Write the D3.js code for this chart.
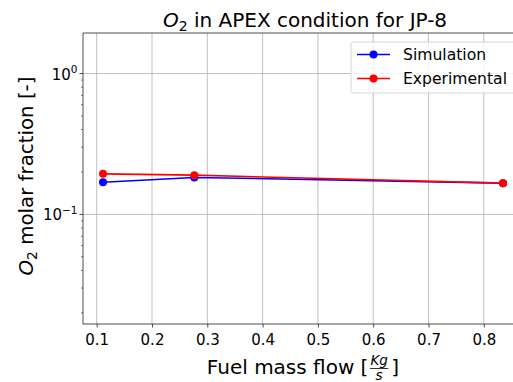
<!DOCTYPE html>
<html>
<head>
<meta charset="utf-8">
<script src="https://cdn.jsdelivr.net/npm/d3@7"></script>
<style>
  body { margin: 0; background: #fff; }
  svg { display: block; font-family: "DejaVu Sans", sans-serif; }
</style>
</head>
<body>
<svg id="chart" width="513" height="382"></svg>
<script>
// Fuel mass flow [kg/s] and O2 molar fraction for each series
const massFlow = [0.1114, 0.2765, 0.8347];
const simulation = [0.169, 0.183, 0.1667];
const experimental = [0.194, 0.190, 0.1667];
const xTicks = [0.1, 0.2, 0.3, 0.4, 0.5, 0.6, 0.7, 0.8];
const yMajorTicks = [0.1, 1];
const seriesNames = ["Simulation", "Experimental"];
const seriesColors = ["#0000ff", "#ff0000"];

const svg = d3.select("#chart");
const plot = { left: 83, right: 523, top: 33, bottom: 324 };

// x limits with 5% padding around the data range
const xMin = d3.min(massFlow), xMax = d3.max(massFlow);
const pad = (xMax - xMin) * 0.05;
const x = d3.scaleLinear().domain([xMin - pad, xMax + pad]).range([plot.left, plot.right]);

// y limits: one decade below the smallest and above the largest value
const allY = simulation.concat(experimental);
const y = d3.scaleLog().domain([d3.min(allY) / 10, d3.max(allY) * 10]).range([plot.bottom, plot.top]);

const gridColor = "#b0b0b0";
const spineColor = "#222";

// grid
const grid = svg.append("g");
xTicks.forEach(t => {
  grid.append("line").attr("x1", x(t)).attr("x2", x(t))
    .attr("y1", plot.top).attr("y2", plot.bottom)
    .attr("stroke", gridColor).attr("stroke-width", 0.8);
});
yMajorTicks.forEach(t => {
  grid.append("line").attr("x1", plot.left).attr("x2", plot.right)
    .attr("y1", y(t)).attr("y2", y(t))
    .attr("stroke", gridColor).attr("stroke-width", 0.8);
});

// x axis
const xAxis = d3.axisBottom(x).tickValues(xTicks).tickSize(3.5).tickPadding(6)
  .tickFormat(d3.format(".1f"));
const gx = svg.append("g").attr("transform", `translate(0,${plot.bottom})`).call(xAxis);
gx.select(".domain").remove();
gx.selectAll("line").attr("stroke", spineColor).attr("stroke-width", 0.8);
gx.selectAll("text").attr("fill", "#000").attr("dy", null).attr("y", 21)
  .style("font-size", "15px").style("font-family", "DejaVu Sans");

// y minor ticks
const [yLo, yHi] = y.domain();
const minor = [];
for (let e = -3; e <= 1; e++) {
  for (let m = 2; m <= 9; m++) {
    const v = m * Math.pow(10, e);
    if (v >= yLo && v <= yHi) minor.push(v);
  }
}
const gyMinor = svg.append("g");
minor.forEach(v => {
  gyMinor.append("line").attr("x1", plot.left - 2).attr("x2", plot.left)
    .attr("y1", y(v)).attr("y2", y(v)).attr("stroke", spineColor).attr("stroke-width", 0.6);
});
// y major ticks with power-of-ten labels
const gy = svg.append("g");
yMajorTicks.forEach(v => {
  gy.append("line").attr("x1", plot.left - 3.5).attr("x2", plot.left)
    .attr("y1", y(v)).attr("y2", y(v)).attr("stroke", spineColor).attr("stroke-width", 0.8);
  const exp = Math.round(Math.log10(v));
  const t = gy.append("text").attr("x", plot.left - 5.5).attr("y", y(v) + 6)
    .attr("text-anchor", "end").style("font-size", "15px");
  t.append("tspan").text("10");
  t.append("tspan").attr("dy", -6.5).style("font-size", "10.5px").text(exp === 0 ? "0" : "\u22121");
});

// spines (left, bottom, top)
svg.append("line").attr("x1", plot.left).attr("x2", plot.left).attr("y1", plot.top).attr("y2", plot.bottom)
  .attr("stroke", spineColor).attr("stroke-width", 0.8);
svg.append("line").attr("x1", plot.left).attr("x2", plot.right).attr("y1", plot.bottom).attr("y2", plot.bottom)
  .attr("stroke", spineColor).attr("stroke-width", 0.8);
svg.append("line").attr("x1", plot.left).attr("x2", plot.right).attr("y1", plot.top).attr("y2", plot.top)
  .attr("stroke", spineColor).attr("stroke-width", 0.8);

// series
const line = d3.line().x(d => x(d[0])).y(d => y(d[1]));
[simulation, experimental].forEach((vals, i) => {
  const pts = massFlow.map((m, j) => [m, vals[j]]);
  svg.append("path").datum(pts).attr("d", line).attr("fill", "none")
    .attr("stroke", seriesColors[i]).attr("stroke-width", 1.6);
  svg.append("g").selectAll("circle").data(pts).join("circle")
    .attr("cx", d => x(d[0])).attr("cy", d => y(d[1])).attr("r", 4)
    .attr("fill", seriesColors[i]);
});

// legend
const lg = svg.append("g");
lg.append("rect").attr("x", 351).attr("y", 42).attr("width", 170).attr("height", 51)
  .attr("rx", 2.5).attr("fill", "rgba(255,255,255,0.8)").attr("stroke", "#ccc").attr("stroke-width", 0.8);
seriesNames.forEach((name, i) => {
  const cy = 54.5 + i * 24;
  lg.append("line").attr("x1", 357).attr("x2", 390).attr("y1", cy).attr("y2", cy)
    .attr("stroke", seriesColors[i]).attr("stroke-width", 1.6);
  lg.append("circle").attr("cx", 373.5).attr("cy", cy).attr("r", 4).attr("fill", seriesColors[i]);
  lg.append("text").attr("x", 403).attr("y", cy + 5.5).style("font-size", "15.6px").text(name);
});

// title
const title = svg.append("text").attr("x", (plot.left + plot.right) / 2 + 2).attr("y", 26.5)
  .attr("text-anchor", "middle").style("font-size", "20px");
title.append("tspan").style("font-style", "italic").text("O");
title.append("tspan").attr("dy", 4.5).style("font-size", "14px").text("2");
title.append("tspan").attr("dy", -4.5).text(" in APEX condition for JP-8");

// y label
const ylab = svg.append("text")
  .attr("transform", `translate(32.5,176) rotate(-90)`)
  .attr("text-anchor", "middle").style("font-size", "19.8px");
ylab.append("tspan").style("font-style", "italic").text("O");
ylab.append("tspan").attr("dy", 4.5).style("font-size", "13.8px").text("2");
ylab.append("tspan").attr("dy", -4.5).text(" molar fraction [-]");

// x label with a stacked fraction for the unit
const xl = svg.append("g");
const base = 374;
const mainTxt = xl.append("text").attr("y", base).style("font-size", "20px").text("Fuel mass flow [");
const mainW = mainTxt.node().getComputedTextLength();
const numTxt = xl.append("text").attr("y", base - 9.5).attr("text-anchor", "middle")
  .style("font-size", "13.5px").style("font-style", "italic").text("Kg");
const denTxt = xl.append("text").attr("y", base + 6).attr("text-anchor", "middle")
  .style("font-size", "13.5px").style("font-style", "italic").text("s");
const fracW = numTxt.node().getComputedTextLength() + 1;
const closeTxt = xl.append("text").attr("y", base).style("font-size", "20px").text("]");
const closeW = closeTxt.node().getComputedTextLength();
const totalW = mainW + 1.5 + fracW + 3 + closeW;
const startX = (plot.left + plot.right) / 2 - totalW / 2;
mainTxt.attr("x", startX);
const fx = startX + mainW + 1.5;
numTxt.attr("x", fx + fracW / 2);
denTxt.attr("x", fx + fracW / 2);
xl.append("line").attr("x1", fx).attr("x2", fx + fracW).attr("y1", base - 5.5).attr("y2", base - 5.5)
  .attr("stroke", "#000").attr("stroke-width", 0.8);
closeTxt.attr("x", fx + fracW + 3);
</script>
</body>
</html>
